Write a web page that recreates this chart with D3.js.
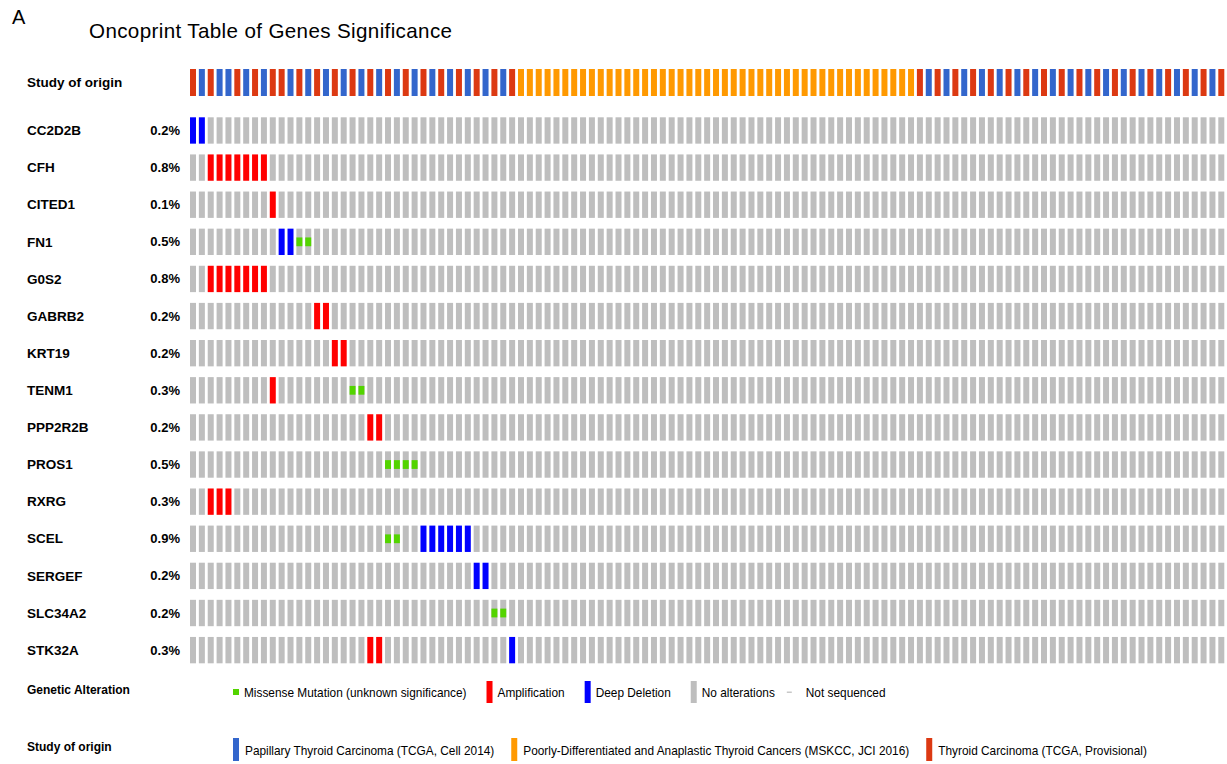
<!DOCTYPE html>
<html>
<head>
<meta charset="utf-8">
<script src="https://cdn.jsdelivr.net/npm/d3@7"></script>
<style>
  html, body { margin: 0; padding: 0; background: #ffffff; }
  svg { display: block; font-family: "Liberation Sans", Arial, Helvetica, sans-serif; }
</style>
</head>
<body>
<svg id="chart" width="1227" height="764"></svg>
<script>
// ---------------- DATA ----------------
const panelLetter = "A";
const chartTitle = "Oncoprint Table of Genes Significance";

const studyNames = [
  "Papillary Thyroid Carcinoma (TCGA, Cell 2014)",
  "Poorly-Differentiated and Anaplastic Thyroid Cancers (MSKCC, JCI 2016)",
  "Thyroid Carcinoma (TCGA, Provisional)"
];
const studyColors = ["#3366cc", "#ff9900", "#dc3912"];

// study of origin per sample column (0 = Papillary, 1 = PDTC/ATC MSKCC, 2 = Thyroid Carcinoma provisional)
const sampleStudy = [
  2,0,2,0,0,2,0,2,0,2,
  2,0,2,0,2,0,2,0,2,0,2,0,2,0,2,0,2,0,2,0,2,0,2,0,2,0,2,
  1,1,1,1,1,1,1,1,1,1,1,1,1,1,1,1,1,1,1,1,1,1,1,1,1,1,1,1,1,1,1,1,1,1,1,1,1,1,1,1,1,1,1,1,1,
  2,0,2,0,2,0,2,0,2,0,2,0,2,0,2,0,2,0,2,0,2,0,2,0,2,0,2,0,2,0,2,0,2,0,2
];

const genes = ["CC2D2B","CFH","CITED1","FN1","G0S2","GABRB2","KRT19","TENM1",
               "PPP2R2B","PROS1","RXRG","SCEL","SERGEF","SLC34A2","STK32A"];
const alteredPct = ["0.2%","0.8%","0.1%","0.5%","0.8%","0.2%","0.2%","0.3%",
                    "0.2%","0.5%","0.3%","0.9%","0.2%","0.2%","0.3%"];

// sample columns with each alteration type, per gene (same order as genes)
const amplifiedCols = [[],[2,3,4,5,6,7,8],[9],[],[2,3,4,5,6,7,8],[14,15],[16,17],[9],
                       [20,21],[],[2,3,4],[],[],[],[20,21]];
const deletedCols   = [[0,1],[],[],[10,11],[],[],[],[],
                       [],[],[],[26,27,28,29,30,31],[32,33],[],[36]];
const missenseCols  = [[],[],[],[12,13],[],[],[],[18,19],
                       [],[22,23,24,25],[],[22,23],[],[34,35],[]];

const alterationLegend = ["Missense Mutation (unknown significance)","Amplification","Deep Deletion","No alterations","Not sequenced"];
const alterationKinds  = ["missense","amp","del","none","ns"];
const alterationColors = {missense:"#53d400", amp:"#ff0000", del:"#0000ff", none:"#bebebe", ns:"#c8c8c8"};

// ---------------- DRAW ----------------
const svg = d3.select("#chart");
const nSamples = sampleStudy.length;

const x = d3.scaleBand().domain(d3.range(nSamples)).range([190, 1224.3]).paddingInner(0.323).paddingOuter(0);
const yStudy = d3.scaleBand().domain(["Study of origin"]).range([69, 96]).padding(0);
const y = d3.scaleBand().domain(genes).range([117.3, 663.3]).paddingInner(0.29).paddingOuter(0);

// Panel letter and title
svg.append("text").attr("x", 12).attr("y", 24).attr("font-size", 20).attr("fill", "#000").text(panelLetter);
svg.append("text").attr("x", 89).attr("y", 37.5).attr("font-size", 20.6).attr("fill", "#000")
  .attr("textLength", 363).attr("lengthAdjust", "spacing").text(chartTitle);

// Study of origin row
svg.append("text").attr("x", 27).attr("y", yStudy("Study of origin") + yStudy.bandwidth()/2)
  .attr("dy", "0.35em").attr("font-size", 13.5).attr("font-weight", "bold").text("Study of origin");
svg.append("g").selectAll("rect").data(sampleStudy).join("rect")
  .attr("x", (d,i) => x(i)).attr("y", yStudy("Study of origin"))
  .attr("width", x.bandwidth()).attr("height", yStudy.bandwidth())
  .attr("fill", d => studyColors[d]);

// Gene rows
const rows = svg.append("g").selectAll("g").data(genes).join("g");
rows.append("text").attr("x", 27).attr("y", g => y(g) + y.bandwidth()/2)
  .attr("dy", "0.35em").attr("font-size", 13.5).attr("font-weight", "bold").text(g => g);
rows.append("text").attr("x", 180).attr("y", g => y(g) + y.bandwidth()/2)
  .attr("dy", "0.35em").attr("text-anchor", "end").attr("font-size", 13).attr("font-weight", "bold")
  .text((g,i) => alteredPct[i]);

rows.each(function(g, gi) {
  const row = d3.select(this);
  const cells = d3.range(nSamples).map(i => {
    let kind = "none";
    if (amplifiedCols[gi].includes(i)) kind = "amp";
    if (deletedCols[gi].includes(i)) kind = "del";
    return {i, kind};
  });
  row.append("g").selectAll("rect").data(cells).join("rect")
    .attr("x", d => x(d.i)).attr("y", y(g))
    .attr("width", x.bandwidth()).attr("height", y.bandwidth())
    .attr("fill", d => alterationColors[d.kind]);
  row.append("g").selectAll("rect").data(missenseCols[gi]).join("rect")
    .attr("x", d => x(d)).attr("y", y(g) + y.bandwidth()/3)
    .attr("width", x.bandwidth()).attr("height", y.bandwidth()/3)
    .attr("fill", alterationColors.missense);
});

// Legend: Genetic Alteration
const legA = svg.append("g");
legA.append("text").attr("x", 27).attr("y", 690).attr("dy", "0.35em")
  .attr("font-size", 12).attr("font-weight", "bold").text("Genetic Alteration");
let cx = 233;
const barTop = 681, barH = 22;
alterationKinds.forEach((k, i) => {
  if (k === "missense") {
    legA.append("rect").attr("x", cx).attr("y", barTop + barH/2 - 3).attr("width", 6).attr("height", 6).attr("fill", alterationColors.missense);
  } else if (k === "ns") {
    legA.append("rect").attr("x", cx - 8).attr("y", barTop + barH/2 - 0.5).attr("width", 5).attr("height", 1.5).attr("fill", alterationColors.ns);
  } else {
    legA.append("rect").attr("x", cx).attr("y", barTop).attr("width", 6).attr("height", barH).attr("fill", alterationColors[k]);
  }
  const t = legA.append("text").attr("x", cx + 11).attr("y", barTop + barH/2 + 1).attr("dy", "0.35em")
    .attr("font-size", 11.85).text(alterationLegend[i]);
  cx = cx + 11 + t.node().getComputedTextLength() + 20;
});

// Legend: Study of origin
const legB = svg.append("g");
legB.append("text").attr("x", 27).attr("y", 747).attr("dy", "0.35em")
  .attr("font-size", 12).attr("font-weight", "bold").text("Study of origin");
let sx = 233;
const sTop = 738, sH = 23;
studyNames.forEach((name, i) => {
  legB.append("rect").attr("x", sx).attr("y", sTop).attr("width", 6).attr("height", sH).attr("fill", studyColors[i]);
  const t = legB.append("text").attr("x", sx + 12).attr("y", sTop + sH/2 + 1).attr("dy", "0.35em")
    .attr("font-size", 11.85).text(name);
  sx = sx + 12 + t.node().getComputedTextLength() + 17;
});
</script>
</body>
</html>
